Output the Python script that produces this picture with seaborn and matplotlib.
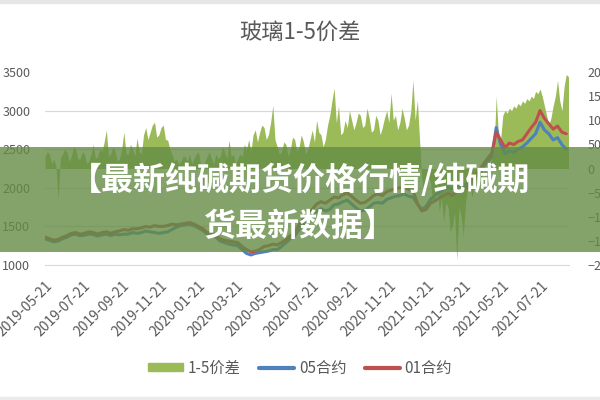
import pandas as pd
import seaborn as sns
import numpy as np
import matplotlib.pyplot as plt
from matplotlib.patches import Rectangle, Patch
from matplotlib.lines import Line2D

# weekly closes, starting 2019-05-21
start = '2019-05-21'

c05 = [1340, 1320, 1300, 1310, 1340, 1360, 1390, 1400, 1380, 1385,
       1400, 1395, 1375, 1390, 1400, 1380, 1400, 1390, 1400, 1400,
       1420, 1410, 1420, 1440, 1430, 1420, 1410, 1420, 1430, 1460,
       1490, 1510, 1520, 1530, 1510, 1480, 1450, 1400, 1400, 1360,
       1310, 1290, 1270, 1260, 1250, 1200, 1150, 1130, 1150, 1160,
       1170, 1180, 1200, 1200, 1240, 1290, 1340, 1380, 1460, 1530,
       1580, 1640, 1700, 1730, 1700, 1720, 1780, 1790, 1820, 1840,
       1790, 1740, 1700, 1710, 1750, 1800, 1810, 1800, 1850, 1870,
       1890, 1900, 1920, 1890, 1880, 1790, 1720, 1760, 1850, 1900,
       1940, 1980, 2000, 1990, 2030, 2030, 2040, 2080, 2150, 2200,
       2260, 2330, 2400, 2780, 2560, 2440, 2480, 2460, 2500, 2530,
       2580, 2640, 2700, 2850, 2750, 2700, 2620, 2650, 2560, 2500]

c01 = [1363, 1340, 1320, 1330, 1360, 1380, 1410, 1420, 1400, 1410,
       1430, 1420, 1400, 1420, 1430, 1410, 1430, 1440, 1460, 1450,
       1470, 1470, 1480, 1500, 1490, 1510, 1500, 1500, 1510, 1530,
       1520, 1530, 1540, 1550, 1530, 1500, 1470, 1420, 1420, 1380,
       1340, 1320, 1310, 1300, 1290, 1240, 1200, 1170, 1180, 1200,
       1240, 1250, 1270, 1260, 1290, 1330, 1380, 1420, 1520, 1600,
       1660, 1720, 1790, 1820, 1800, 1840, 1880, 1870, 1910, 1930,
       1890, 1840, 1800, 1810, 1850, 1900, 1920, 1900, 1950, 1970,
       1990, 2000, 2010, 1980, 1960, 1800, 1700, 1720, 1800, 1830,
       1870, 1900, 1930, 1900, 1950, 1970, 1990, 2050, 2150, 2220,
       2300, 2380, 2450, 2720, 2620, 2520, 2580, 2560, 2600, 2620,
       2700, 2780, 2850, 3000, 2900, 2830, 2760, 2800, 2720, 2700]

# spread sampled twice a week (right axis)
spread = [25, 35, 30, 10, 20, 5, -65, 20, 30, 40,
          35, 15, 25, 45, 40, 20, 20, 35, 30, 10,
          15, 30, 50, 20, 25, 40, 35, 55, 80, 25,
          30, 45, 35, 15, 20, 40, 76, 30, 30, 50,
          40, 25, 63, 35, 30, 70, 85, 60, 75, 90,
          96, 65, 70, 85, 90, 60, 59, 40, 30, 15,
          20, 10, 15, 25, 25, 15, 30, 10, 20, 30,
          35, 10, -38, 15, 25, 35, 20, 10, 30, 20,
          25, 45, 35, 20, 59, 25, 30, 10, 20, 30,
          25, 50, 40, 60, 35, 70, 80, 55, 75, 90,
          85, 60, 70, 95, 131, 60, 45, 30, 35, 55,
          50, 25, 40, 65, 60, 35, 45, 70, 55, 30,
          40, 60, 80, 55, 100, 75, 70, 45, 60, 90,
          110, 140, 167, 95, 130, 70, 75, 100, 85, 120,
          100, 80, 95, 115, 110, 85, 90, 125, 105, 75,
          80, 110, 100, 70, 85, 105, 120, 95, 156, 100,
          110, 80, 95, 125, 105, 80, 90, 120, 183, 100,
          142, 60, -20, -50, -40, -15, -30, -70, -60, -30,
          -90, -60, -110, -70, -80, -130, -120, -90, -190, -80,
          -100, -140, -70, -40, -40, -60, -30, -20, -10, -25,
          0, -10, 10, 5, 20, 40, 150, 70, 60, 110,
          120, 115, 125, 120, 130, 125, 135, 130, 140, 135,
          145, 140, 150, 145, 160, 155, 165, 150, 130, 110,
          90, 105, 130, 150, 183, 140, 120, 170, 195, 190]

tick_dates = ['2019-05-21', '2019-07-21', '2019-09-21', '2019-11-21',
              '2020-01-21', '2020-03-21', '2020-05-21', '2020-07-21',
              '2020-09-21', '2020-11-21', '2021-01-21', '2021-03-21',
              '2021-05-21', '2021-07-21']

sns.set_style('white')
plt.rcParams['font.family'] = ['Noto Sans CJK SC', 'DejaVu Sans']

dates = pd.date_range(start, periods=len(c05), freq='7D')
df = pd.DataFrame({'DATE': dates, '05合约': c05, '01合约': c01})
sp = pd.DataFrame({'DATE': pd.date_range(start, periods=len(spread), freq='84h'), '1-5价差': spread})

grey = '#595959'
fig = plt.figure(figsize=(6, 4), dpi=100)
ax = fig.add_axes([0.075, 0.3375, 0.873, 0.4825])
ax2 = ax.twinx()

# spread area on secondary axis, behind the price lines
ax2.fill_between(sp['DATE'], 0, sp['1-5价差'], color='#9BBB59', lw=0)
sns.lineplot(x='DATE', y='05合约', data=df, ax=ax, color='#4F81BD', lw=2.2)
sns.lineplot(x='DATE', y='01合约', data=df, ax=ax, color='#C0504D', lw=2.2)
ax.set_zorder(ax2.get_zorder() + 1)
ax.patch.set_visible(False)

ax.set_ylim(1000, 3500)
ax2.set_ylim(-200, 200)
ax.set_yticks([1000, 1500, 2000, 2500, 3000, 3500])
ax2.set_yticks([-200, -150, -100, -50, 0, 50, 100, 150, 200])
ax.set_xlim(pd.Timestamp('2019-05-21'), pd.Timestamp('2021-09-04'))
ax.set_xticks(pd.to_datetime(tick_dates))
ax.set_xticklabels(tick_dates, rotation=45, ha='right', rotation_mode='anchor')
ax.set_xlabel('')
ax.set_ylabel('')
ax2.set_ylabel('')

# gridlines for left ticks, drawn on the back axes so they sit under the area
lo, hi = ax.get_ylim()
lo2, hi2 = ax2.get_ylim()
ax2.set_yticks([lo2 + (t - lo) / (hi - lo) * (hi2 - lo2) for t in ax.get_yticks()], minor=True)
ax2.grid(True, which='minor', axis='y', color='#D9D9D9', lw=0.9)
ax2.grid(False, which='major')
ax.grid(False)

for a in (ax, ax2):
    for s in a.spines.values():
        s.set_visible(False)
ax.spines['bottom'].set_visible(True)
ax.spines['bottom'].set_color('#D9D9D9')
ax.tick_params(axis='x', colors='#D9D9D9', labelcolor=grey, labelsize=10, length=5, width=0.9, pad=5)
ax.tick_params(axis='y', left=False, labelcolor=grey, labelsize=9, pad=7)
ax2.tick_params(axis='y', which='both', right=False, labelcolor=grey, labelsize=9, pad=10)

fig.text(0.5, 0.92, '玻璃1-5价差', ha='center', va='center', fontsize=16, color=grey)

handles = [Patch(color='#9BBB59'),
           Line2D([], [], color='#4F81BD', lw=3),
           Line2D([], [], color='#C0504D', lw=3)]
fig.legend(handles, ['1-5价差', '05合约', '01合约'], loc='center', bbox_to_anchor=(0.5, 0.08),
           ncol=3, frameon=False, fontsize=11, handlelength=2.3, handleheight=0.5,
           columnspacing=1.2, handletextpad=0.3, labelcolor=grey)

# frame bits of the screenshot
fig.patches.append(Rectangle((0, 0.993), 1, 0.007, transform=fig.transFigure, color='#E6E6E6', zorder=0))
fig.patches.append(Rectangle((0, 0), 1, 0.0075, transform=fig.transFigure, color='#EBEBEB', zorder=0))

# overlay banner
fig.patches.append(Rectangle((0, 0.37), 1, 0.2625, transform=fig.transFigure,
                             facecolor=(100/255, 140/255, 70/255), alpha=0.8, lw=0, zorder=10))
fig.text(0.5, 0.55, '【最新纯碱期货价格行情/纯碱期', ha='center', va='center', fontsize=23,
         color='white', fontweight='bold', zorder=11)
fig.text(0.5, 0.4325, '货最新数据】', ha='center', va='center', fontsize=23,
         color='white', fontweight='bold', zorder=11)

fig.savefig('out.png', dpi=100)
